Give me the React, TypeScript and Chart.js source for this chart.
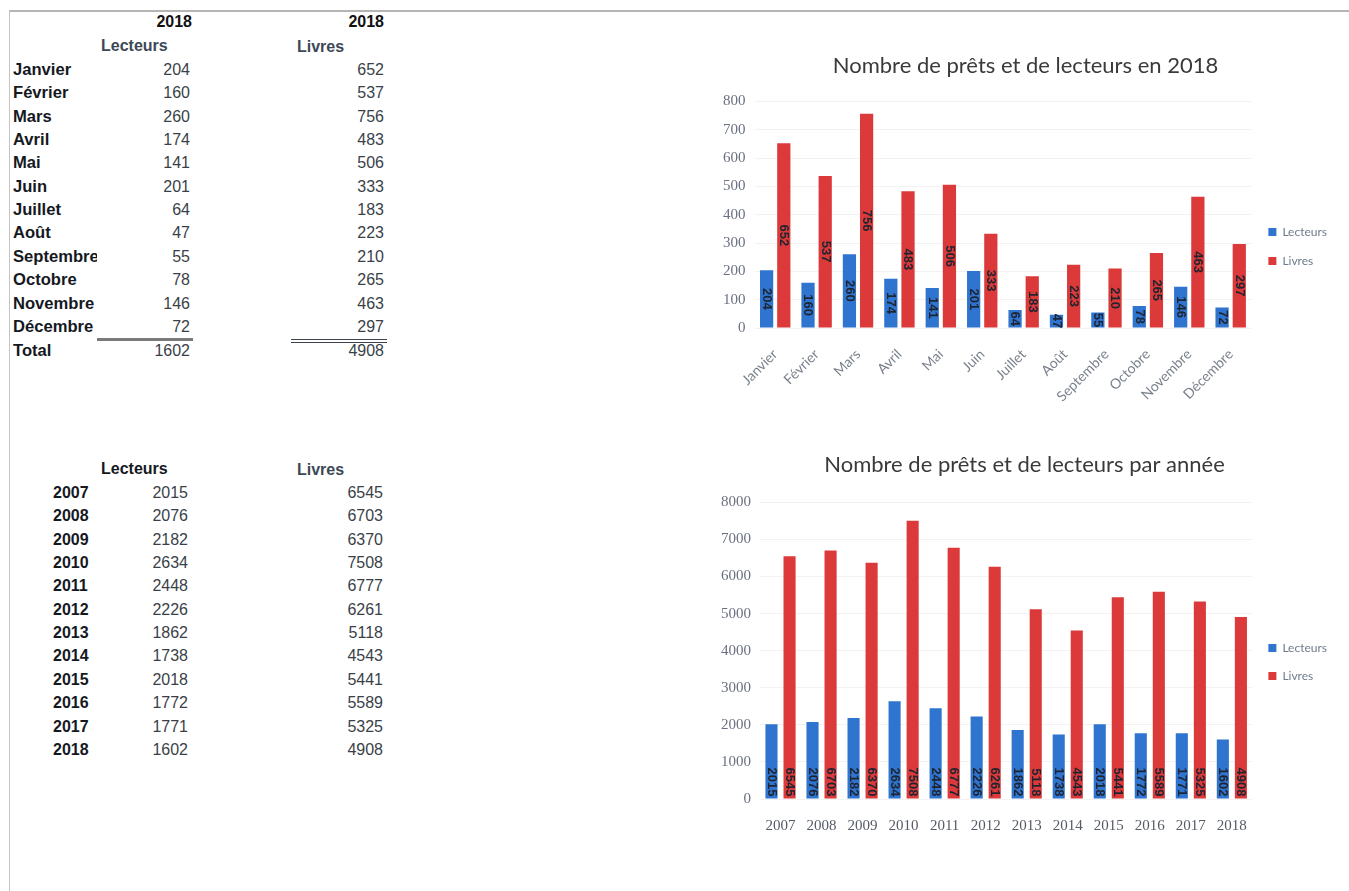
import React, { useEffect, useRef } from "react";
import { Chart, registerables } from "chart.js";

Chart.register(...registerables);

const months = ["Janvier", "Février", "Mars", "Avril", "Mai", "Juin", "Juillet", "Août", "Septembre", "Octobre", "Novembre", "Décembre"];
const monthLecteurs = [204, 160, 260, 174, 141, 201, 64, 47, 55, 78, 146, 72];
const monthLivres = [652, 537, 756, 483, 506, 333, 183, 223, 210, 265, 463, 297];
const totalLecteurs = 1602;
const totalLivres = 4908;

const years = ["2007", "2008", "2009", "2010", "2011", "2012", "2013", "2014", "2015", "2016", "2017", "2018"];
const yearLecteurs = [2015, 2076, 2182, 2634, 2448, 2226, 1862, 1738, 2018, 1772, 1771, 1602];
const yearLivres = [6545, 6703, 6370, 7508, 6777, 6261, 5118, 4543, 5441, 5589, 5325, 4908];

const title1 = "Nombre de prêts et de lecteurs en 2018";
const title2 = "Nombre de prêts et de lecteurs par année";
const seriesNames = ["Lecteurs", "Livres"];

const BLUE = "#2f74cf";
const RED = "#dc3a3a";

function barLabels(mode: "center" | "base", fontSize: number) {
  return {
    id: "barLabels",
    afterDatasetsDraw(chart: any) {
      const ctx = chart.ctx;
      chart.data.datasets.forEach((ds: any, di: number) => {
        const meta = chart.getDatasetMeta(di);
        meta.data.forEach((bar: any, i: number) => {
          const p = bar.getProps(["x", "y", "base"], true);
          ctx.save();
          if (mode === "center") {
            ctx.translate(p.x, (p.y + p.base) / 2);
            ctx.rotate(Math.PI / 2);
            ctx.textAlign = "center";
          } else {
            ctx.translate(p.x, p.base - 2);
            ctx.rotate(Math.PI / 2);
            ctx.textAlign = "right";
          }
          ctx.textBaseline = "middle";
          ctx.font = `bold ${fontSize}px "Liberation Sans"`;
          ctx.fillStyle = "#1e2430";
          ctx.fillText(String(ds.data[i]), 0, 0);
          ctx.restore();
        });
      });
    },
  };
}

function BarChart(props: {
  labels: string[];
  a: number[];
  b: number[];
  title: string;
  max: number;
  step: number;
  mode: "center" | "base";
  rotate: boolean;
  catPct: number;
  barPct: number;
  legendShift: number;
  legendPad: number;
  xPad: number;
  padLeft: number;
  titleBottom: number;
  style: React.CSSProperties;
}) {
  const ref = useRef<HTMLCanvasElement>(null);
  useEffect(() => {
    const chart = new Chart(ref.current!, {
      type: "bar",
      data: {
        labels: props.labels,
        datasets: [
          { label: seriesNames[0], data: props.a, backgroundColor: BLUE, categoryPercentage: props.catPct, barPercentage: props.barPct },
          { label: seriesNames[1], data: props.b, backgroundColor: RED, categoryPercentage: props.catPct, barPercentage: props.barPct },
        ],
      },
      options: {
        animation: false,
        responsive: false,
        maintainAspectRatio: false,
        layout: { padding: { left: props.padLeft, right: 12, top: 0, bottom: 0 } },
        plugins: {
          title: {
            display: true,
            text: props.title,
            font: { family: "Lato", size: 22, weight: "normal" },
            color: "#3a3a3a",
            padding: { top: 14, bottom: props.titleBottom },
          },
          legend: {
            position: "right",
            title: {
              display: true,
              text: " ",
              font: { size: 10 },
              padding: { top: props.legendShift, bottom: 0 },
            },
            labels: {
              boxWidth: 8,
              boxHeight: 8,
              padding: props.legendPad,
              font: { family: "Lato", size: 12 },
              color: "#6e7c8c",
            },
          },
          tooltip: { enabled: false },
        },
        scales: {
          x: {
            grid: { display: false },
            border: { display: false },
            ticks: props.rotate
              ? { minRotation: 45, maxRotation: 45, padding: props.xPad, font: { family: "Lato", size: 14 }, color: "#7a808c" }
              : { padding: props.xPad, font: { family: "Liberation Serif", size: 15 }, color: "#555b66" },
          },
          y: {
            min: 0,
            max: props.max,
            border: { display: false },
            grid: { color: "rgba(0,0,0,0.05)", drawTicks: false },
            ticks: {
              stepSize: props.step,
              padding: 9,
              font: { family: "Liberation Serif", size: 15 },
              color: "#6a7080",
              callback: (v: any) => String(v),
            },
          },
        },
      },
      plugins: [barLabels(props.mode, 13)],
    });
    return () => chart.destroy();
  }, []);
  const w = props.style.width as number;
  const h = props.style.height as number;
  return (
    <div style={{ position: "absolute", ...props.style }}>
      <canvas ref={ref} width={w} height={h} style={{ width: w, height: h }} />
    </div>
  );
}

const cellFont: React.CSSProperties = {
  position: "absolute",
  fontFamily: '"Liberation Sans", Arial, sans-serif',
  fontSize: 16,
  lineHeight: "20px",
  whiteSpace: "nowrap",
};

function Txt(p: { x: number; y: number; text: string; right?: boolean; bold?: boolean; color?: string; clip?: number; size?: number }) {
  const st: React.CSSProperties = {
    ...cellFont,
    top: p.y - 10,
    fontWeight: p.bold ? "bold" : "normal",
    color: p.color || "#3a3f48",
  };
  if (p.size) st.fontSize = p.size;
  if (p.right) {
    st.left = p.x - 120;
    st.width = 120;
    st.textAlign = "right";
  } else {
    st.left = p.x;
    if (p.clip) {
      st.width = p.clip;
      st.overflow = "hidden";
    }
  }
  return <div style={st}>{p.text}</div>;
}

export default function App() {
  const rowH = 23.35;
  return (
    <div style={{ position: "absolute", left: 0, top: 0, width: 1349, height: 891, background: "#fff", overflow: "hidden" }}>
      <div style={{ position: "absolute", left: 10, top: 10, width: 1339, height: 2, background: "#b5b5b5" }} />
      <div style={{ position: "absolute", left: 9, top: 10, width: 1, height: 881, background: "#c4c4c4" }} />

      {/* Table 1 */}
      <Txt x={192} y={22} text="2018" right bold color="#111" />
      <Txt x={384} y={22} text="2018" right bold color="#111" />
      <Txt x={101} y={46} text={seriesNames[0]} bold color="#3c4856" />
      <Txt x={297} y={47} text={seriesNames[1]} bold color="#3c4856" />
      {months.map((m, i) => (
        <React.Fragment key={m}>
          <Txt x={13} y={70 + i * rowH} text={m} bold color="#15191f" clip={84} size={16.6} />
          <Txt x={190} y={70 + i * rowH} text={String(monthLecteurs[i])} right />
          <Txt x={384} y={70 + i * rowH} text={String(monthLivres[i])} right />
        </React.Fragment>
      ))}
      <div style={{ position: "absolute", left: 97, top: 338, width: 96, height: 3, background: "#7a7a7a" }} />
      <div style={{ position: "absolute", left: 291, top: 339, width: 96, height: 1, background: "#3d4450" }} />
      <div style={{ position: "absolute", left: 291, top: 342, width: 96, height: 1, background: "#3d4450" }} />
      <Txt x={13} y={351} text="Total" bold color="#15191f" size={16.6} />
      <Txt x={190} y={351} text={String(totalLecteurs)} right />
      <Txt x={384} y={351} text={String(totalLivres)} right />

      {/* Table 2 */}
      <Txt x={101} y={469} text={seriesNames[0]} bold color="#15191f" />
      <Txt x={297} y={470} text={seriesNames[1]} bold color="#3c4856" />
      {years.map((yv, i) => (
        <React.Fragment key={yv}>
          <Txt x={53} y={493 + i * rowH} text={yv} bold color="#15191f" />
          <Txt x={188} y={493 + i * rowH} text={String(yearLecteurs[i])} right />
          <Txt x={383} y={493 + i * rowH} text={String(yearLivres[i])} right />
        </React.Fragment>
      ))}

      <BarChart
        labels={months}
        a={monthLecteurs}
        b={monthLivres}
        title={title1}
        max={800}
        step={100}
        mode="center"
        rotate
        catPct={0.83}
        barPct={0.77}
        legendShift={27}
        legendPad={17}
        xPad={10}
        padLeft={14}
        titleBottom={22}
        style={{ left: 700, top: 39, width: 649, height: 376 }}
      />
      <BarChart
        labels={years}
        a={yearLecteurs}
        b={yearLivres}
        title={title2}
        max={8000}
        step={1000}
        mode="base"
        rotate={false}
        catPct={0.88}
        barPct={0.67}
        legendShift={29}
        legendPad={16}
        xPad={10}
        padLeft={12}
        titleBottom={24}
        style={{ left: 700, top: 438, width: 649, height: 407 }}
      />
    </div>
  );
}
